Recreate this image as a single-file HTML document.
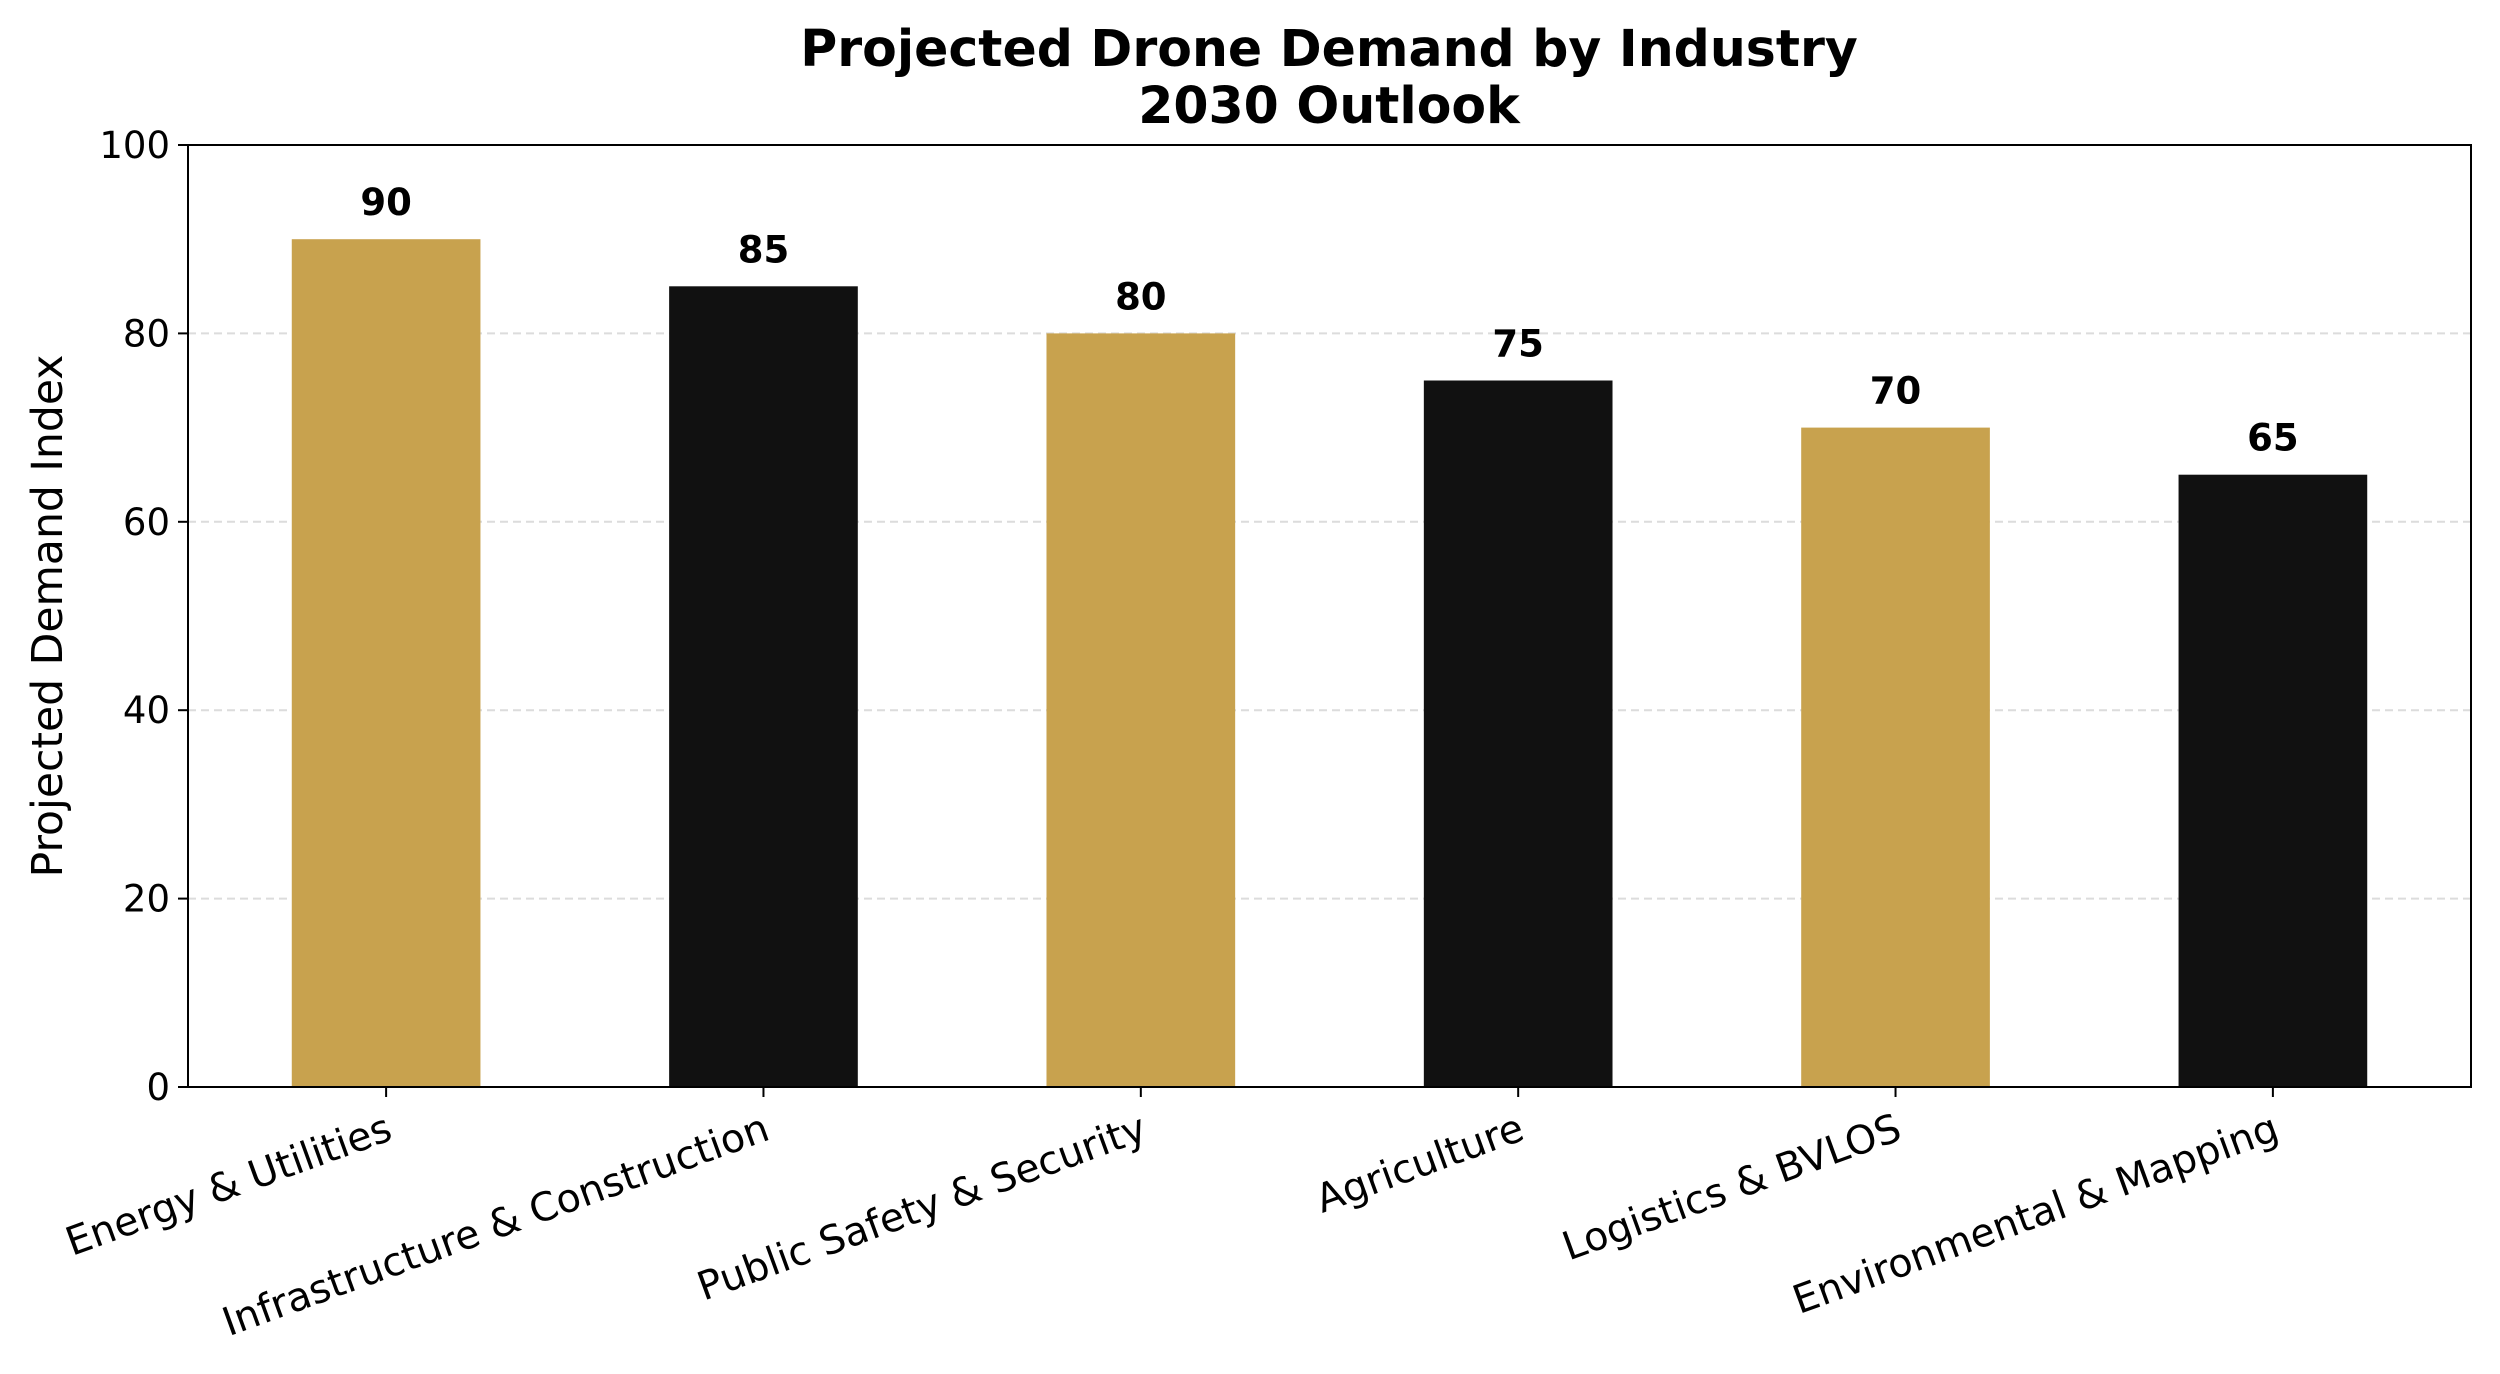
<!DOCTYPE html>
<html><head><meta charset="utf-8"><style>
html,body{margin:0;padding:0;background:#fff}
svg{display:block;font-family:"DejaVu Sans","Liberation Sans",sans-serif}
</style></head><body>
<svg id="chart" width="2500" height="1374" viewBox="0 0 2500 1374" xmlns="http://www.w3.org/2000/svg">
<rect width="2500" height="1374" fill="#fff"/>
<text x="1329" y="66" text-anchor="middle" font-size="50.5" font-weight="bold">Projected Drone Demand by Industry</text>
<text x="1329" y="123" text-anchor="middle" font-size="50.5" font-weight="bold">2030 Outlook</text>
<text transform="translate(62,616) rotate(-90)" text-anchor="middle" font-size="42.5">Projected Demand Index</text>
<g id="grid"></g><g id="bars"></g><g id="axes"></g>
</svg>
<script>
const categories=["Energy & Utilities","Infrastructure & Construction","Public Safety & Security","Agriculture","Logistics & BVLOS","Environmental & Mapping"];
const values=[90,85,80,75,70,65];
const yTicks=[0,20,40,60,80,100];
const colors=["#C8A24E","#111111"];
const L=188,R=2471,T=145,B=1087,NS="http://www.w3.org/2000/svg";
const xMin=-0.525,xMax=categories.length-1+0.525;
const x=i=>L+(i-xMin)/(xMax-xMin)*(R-L);
const y=v=>B-(v/100)*(B-T);
const bw=0.5*(R-L)/(xMax-xMin);
function mk(tag,attrs,parent,txt){const e=document.createElementNS(NS,tag);for(const k in attrs)e.setAttribute(k,attrs[k]);if(txt!==undefined)e.textContent=txt;parent.appendChild(e);return e;}
const grid=document.getElementById('grid'),bars=document.getElementById('bars'),axes=document.getElementById('axes');
yTicks.forEach(t=>{
 if(t>0&&t<100){const g=mk('line',{x1:L,x2:R,y1:y(t),y2:y(t),stroke:'#dcdcdc','stroke-width':2,'stroke-dasharray':'8,5'},grid);
 
 }
 const tk=mk('line',{x1:L-10,x2:L,y1:y(t),y2:y(t),stroke:'#000','stroke-width':2},axes);
 
 
 const lb=mk('text',{x:L-18,y:y(t)+13,'text-anchor':'end','font-size':37},axes,String(t));
 
 
});
categories.forEach((c,i)=>{
 const r=mk('rect',{x:x(i)-bw/2,y:y(values[i]),width:bw,height:B-y(values[i]),fill:colors[i%2]},bars);
 
 
 const v=mk('text',{x:x(i),y:y(values[i])-24,'text-anchor':'middle','font-size':37,'font-weight':'bold'},bars,String(values[i]));
 
 
 const tk=mk('line',{x1:x(i),x2:x(i),y1:B,y2:B+10,stroke:'#000','stroke-width':2},axes);
 
 
 const lb=mk('text',{transform:`translate(${x(i)-2},${B+24}) rotate(-20)`,'text-anchor':'end','font-size':39.5,dy:'0.75em'},axes,c);
 
 
});
const f=mk('rect',{x:L,y:T,width:R-L,height:B-T,fill:'none',stroke:'#000','stroke-width':2},axes);


</script>
</body></html>
